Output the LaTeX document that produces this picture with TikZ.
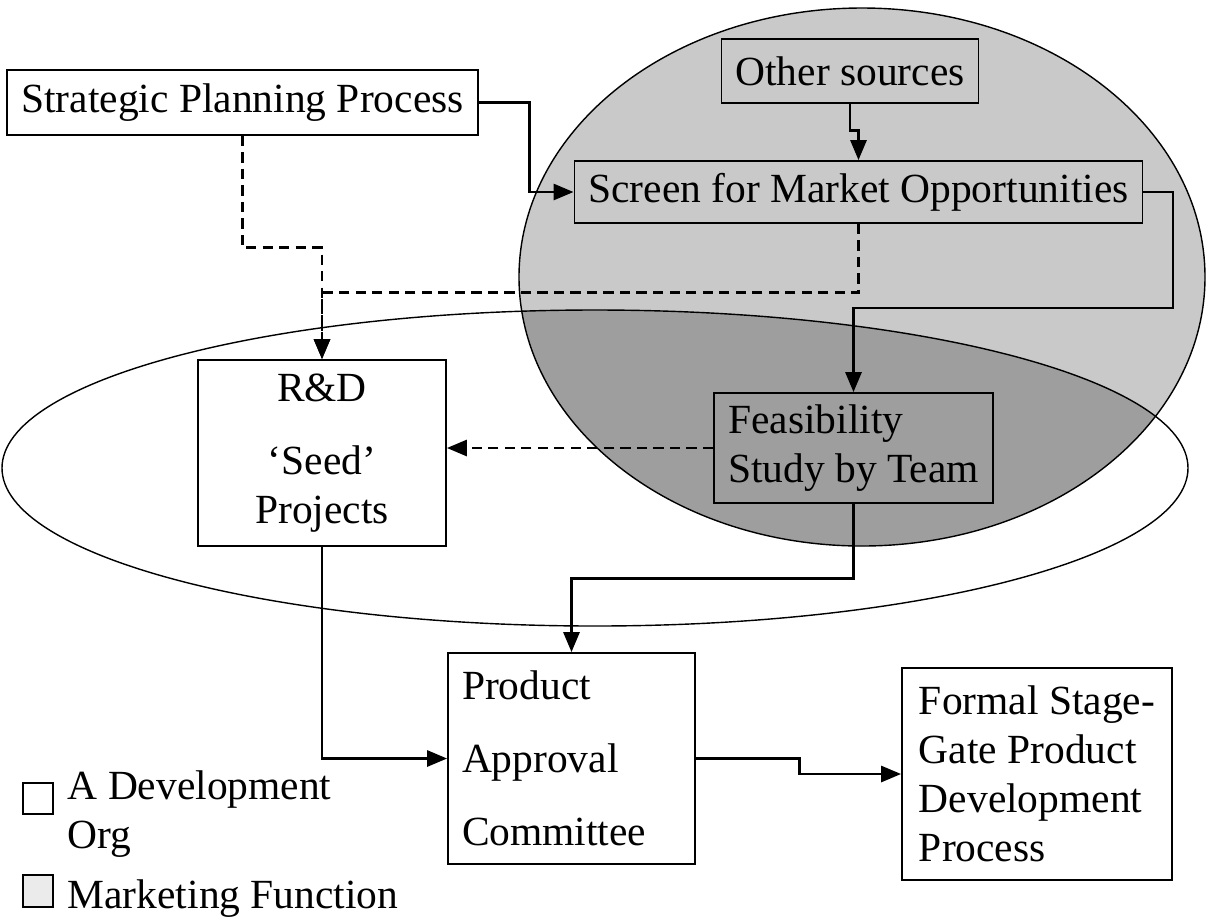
\documentclass[tikz,border=0pt]{standalone}
\usepackage{fontspec}
\setmainfont{Liberation Serif}
\usetikzlibrary{arrows.meta}

\begin{document}
\begin{tikzpicture}[
    box/.style={draw, line width=0.5pt, inner xsep=0.14cm, inner ysep=0.1cm, font=\fontsize{11.8}{13.9}\selectfont},
    flow/.style={line width=0.8pt, -{Triangle[length=2mm,width=1.6mm]}},
    dflow/.style={flow, dash pattern=on 2.9pt off 1.8pt},
    mktfill/.style={fill=black!21},
    ovlfill/.style={fill=black!38},
    lgd/.style={inner sep=0pt, font=\fontsize{11.8}{13.9}\selectfont}
]

    \useasboundingbox (0,0) rectangle (12.06,-9.17);

    % marketing function and development org
    \fill[mktfill] (8.62,-2.77) ellipse (3.43 and 2.69);
    \begin{scope}
    \clip (8.62,-2.77) ellipse (3.43 and 2.69);
    \fill[ovlfill] (5.95,-4.68) ellipse (5.93 and 1.58);
    \end{scope}
    \draw[line width=0.4pt] (8.62,-2.77) ellipse (3.43 and 2.69);
    \draw[line width=0.4pt] (5.95,-4.68) ellipse (5.93 and 1.58);

    \node[box, minimum width=4.69cm, minimum height=0.65cm] (spp) at (2.425,-1.025) {Strategic Planning Process};
    \node[box, minimum width=2.54cm, minimum height=0.64cm] (src) at (8.50,-0.71) {Other sources};
    \node[box, minimum width=5.63cm, minimum height=0.62cm] (scr) at (8.585,-1.92) {Screen for Market Opportunities};
    \node[box, align=left, minimum width=2.79cm, minimum height=1.10cm] (feas) at (8.535,-4.48) {Feasibility\\Study by Team};
    \node[box, align=center, minimum width=2.48cm, minimum height=1.86cm] (rnd) at (3.22,-4.53) {R\&D\\[6.8pt]`Seed'\\Projects};
    \node[box, align=left, text width=2.19cm, minimum height=2.11cm] (pac) at (5.715,-7.585) {Product\\[6.8pt]Approval\\[6.8pt]Committee};
    \node[box, align=left, minimum width=2.70cm, minimum height=2.12cm] (sgp) at (10.37,-7.74) {Formal Stage-\\Gate Product\\Development\\Process};

    \coordinate (turn) at (11.73,-3.08);

    \draw[flow] (spp.east) -- ++(0.51,0) |- (scr.west);
    \draw[flow] (src.south) -- ++(0,-0.27) -| (scr.north);
    \draw[flow] (scr.east) -| (turn) -| (feas.north);
    \draw[dflow] (spp.south) -- ++(0,-1.12) -| (rnd.north);
    \draw[dflow] (scr.south) -- ++(0,-0.69) -| (rnd.north);
    \draw[dflow] (feas.west) -- (rnd.east |- feas.west);
    \draw[flow] (feas.south) -- ++(0,-0.75) -| (pac.north);
    \draw[flow] (rnd.south) |- (pac.west);
    \draw[flow] (pac.east) -- ++(1.04,0) |- (sgp.west);

    % key
    \node[draw, line width=0.4pt, minimum width=0.30cm, minimum height=0.31cm, inner sep=0pt] (keydev) at (0.38,-7.985) {};
    \node[draw, line width=0.4pt, fill=black!8, minimum width=0.30cm, minimum height=0.32cm, inner sep=0pt] (keymkt) at (0.38,-8.91) {};
    \node[lgd, anchor=north west, align=left] (keydevtxt) at (0.67,-7.70) {A Development\\Org};
    \node[lgd, anchor=base west] (keymkttxt) at (0.67,-9.08) {Marketing Function};
\end{tikzpicture}
\end{document}
